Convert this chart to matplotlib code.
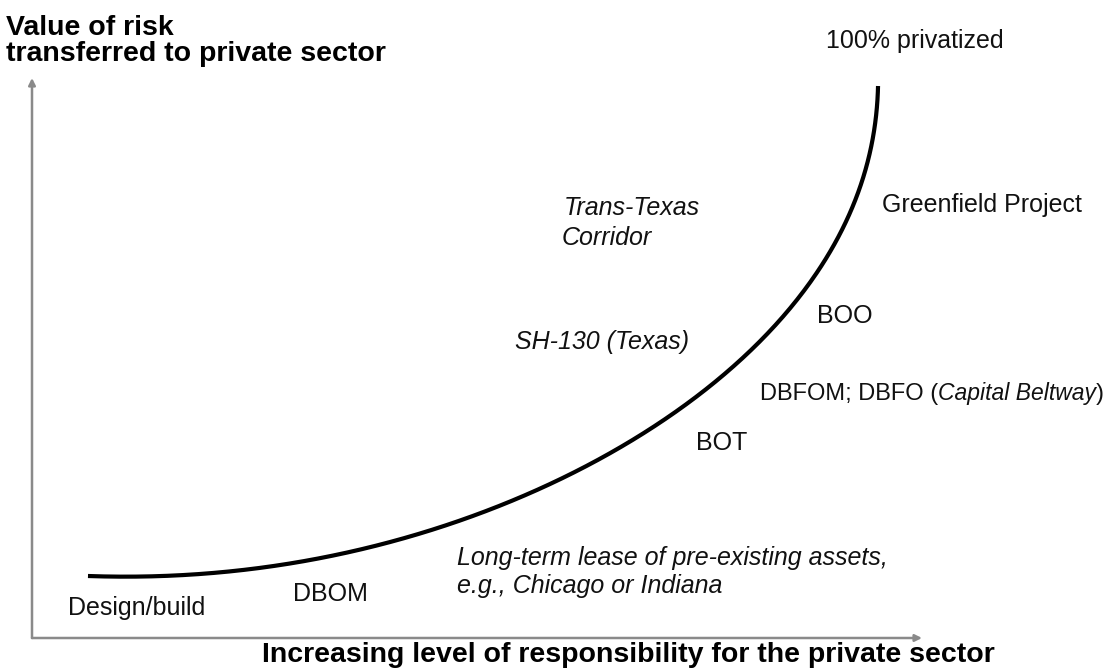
import matplotlib
matplotlib.use("Agg")
import matplotlib.pyplot as plt
import numpy as np

plt.rcParams["font.family"] = ["Liberation Sans", "DejaVu Sans"]

# curve (0-100 on both axes)
curve_x = [6.29, 24.16, 39.10, 50.34, 61.57, 69.10, 74.72, 79.55, 84.04,
           87.08, 89.66, 91.69, 93.26, 94.38, 94.94, 95.06]
curve_y = [11.07, 12.68, 16.25, 21.61, 30.89, 37.68, 43.04, 49.11, 56.25,
           62.14, 69.64, 75.89, 81.79, 87.68, 93.75, 98.57]

# (text, x, y of baseline, italic)
labels = [
    ("100% privatized", 89.2, 105.4, False),
    ("Greenfield Project", 95.5, 76.1, False),
    ("Trans-Texas", 59.7, 75.5, True),
    ("Corridor", 59.5, 70.2, True),
    ("BOO", 88.2, 56.3, False),
    ("SH-130 (Texas)", 54.3, 51.6, True),
    ("BOT", 74.6, 33.6, False),
    ("Long-term lease of pre-existing assets,", 47.8, 13.0, True),
    ("e.g., Chicago or Indiana", 47.8, 8.0, True),
    ("Design/build", 4.0, 4.1, False),
    ("DBOM", 29.3, 6.6, False),
]
# label with a mixed style: (text, italic) pieces
mixed = [("DBFOM; DBFO (", False), ("Capital Beltway", True), (")", False)]
mixed_xy = (81.8, 42.5)

x_title = "Increasing level of responsibility for the private sector"
y_title = ["Value of risk", "transferred to private sector"]


def smooth(xs, ys, deg=5, n=400):
    # weighted least-squares polynomial in chord length, pinned at the ends,
    # only to draw one smooth stroke through the read points
    xs, ys = np.asarray(xs), np.asarray(ys)
    s = np.concatenate([[0], np.cumsum(np.hypot(np.diff(xs), np.diff(ys)))])
    s = s / s[-1]
    w = np.ones_like(s)
    w[[0, -1]] = 20
    t = np.linspace(0, 1, n)
    return (np.polyval(np.polyfit(s, xs, deg, w=w), t),
            np.polyval(np.polyfit(s, ys, deg, w=w), t))


fig = plt.figure(figsize=(11.13, 6.72), dpi=100)
ax = fig.add_axes([32 / 1113, 34 / 672, 890 / 1113, 560 / 672])
ax.set_xlim(0, 100)
ax.set_ylim(0, 100)
ax.axis("off")

# axes with arrows
arrow = dict(arrowstyle="-|>", color="#8a8a8a", lw=1.8, mutation_scale=10,
             shrinkA=0, shrinkB=0)
ax.annotate("", xy=(0, 1), xytext=(0, 0), xycoords="axes fraction",
            arrowprops=arrow, annotation_clip=False)
ax.annotate("", xy=(1, 0), xytext=(0, 0), xycoords="axes fraction",
            arrowprops=arrow, annotation_clip=False)

sx, sy = smooth(curve_x, curve_y)
ax.plot(sx, sy, color="black", lw=3.0, solid_capstyle="butt", clip_on=False)

for txt, x, y, it in labels:
    ax.text(x, y, txt, fontsize=18, style="italic" if it else "normal",
            ha="left", va="baseline", color="#111111", clip_on=False)

# mixed regular / italic label, pieces chained one after another
prev = ax.text(*mixed_xy, mixed[0][0], fontsize=17, ha="left",
               va="baseline", color="#111111")
for txt, it in mixed[1:]:
    prev = ax.annotate(txt, xy=(1, 0), xycoords=prev,
                       fontsize=16.5 if it else 17,
                       style="italic" if it else "normal",
                       ha="left", va="bottom", color="#111111",
                       annotation_clip=False)

fig.text(6 / 1113, 1 - 35 / 672, y_title[0], fontsize=20.5,
         fontweight="bold", ha="left", va="baseline")
fig.text(6 / 1113, 1 - 61 / 672, y_title[1], fontsize=20.5,
         fontweight="bold", ha="left", va="baseline")
fig.text(628 / 1113, 1 - 662 / 672, x_title, fontsize=20.5,
         fontweight="bold", ha="center", va="baseline")

fig.savefig("out.png", dpi=100)
